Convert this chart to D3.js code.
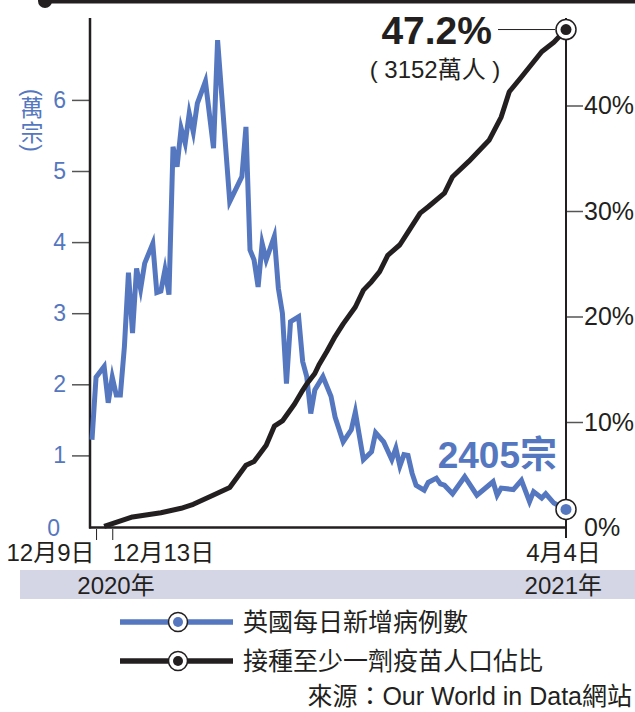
<!DOCTYPE html>
<html>
<head>
<meta charset="utf-8">
<script src="https://cdn.jsdelivr.net/npm/d3@7"></script>
<style>
body { margin: 0; background: #fff; }
svg { display: block; font-family: "Liberation Sans", Arial, "Noto Sans CJK TC", sans-serif; }
</style>
</head>
<body>
<script>
var width = 635,
  height = 712

var blue = '#5577bf',
  ink = '#231f20',
  font = '"Liberation Sans", Arial, "Noto Sans CJK TC", sans-serif'

// daily new cases in the UK (units of 10,000)
var caseDates = ['2020-12-08', '2020-12-09', '2020-12-11', '2020-12-12', '2020-12-13', '2020-12-14', '2020-12-15',
  '2020-12-16', '2020-12-17', '2020-12-18', '2020-12-19', '2020-12-20', '2020-12-21', '2020-12-23', '2020-12-24',
  '2020-12-25', '2020-12-26', '2020-12-27', '2020-12-28', '2020-12-29', '2020-12-30', '2020-12-31', '2021-01-01',
  '2021-01-02', '2021-01-03', '2021-01-05', '2021-01-07', '2021-01-08', '2021-01-11', '2021-01-14', '2021-01-15',
  '2021-01-16', '2021-01-17', '2021-01-18', '2021-01-19', '2021-01-20', '2021-01-22', '2021-01-23', '2021-01-24',
  '2021-01-25', '2021-01-26', '2021-01-28', '2021-01-29', '2021-01-30', '2021-01-31', '2021-02-01', '2021-02-03',
  '2021-02-05', '2021-02-06', '2021-02-08', '2021-02-10', '2021-02-11', '2021-02-13', '2021-02-15', '2021-02-16',
  '2021-02-18', '2021-02-20', '2021-02-21', '2021-02-22', '2021-02-23', '2021-02-24', '2021-02-25', '2021-02-26',
  '2021-02-28', '2021-03-01', '2021-03-03', '2021-03-04', '2021-03-05', '2021-03-07', '2021-03-10', '2021-03-13',
  '2021-03-17', '2021-03-18', '2021-03-19', '2021-03-22', '2021-03-24', '2021-03-26', '2021-03-27', '2021-03-29',
  '2021-03-30', '2021-04-01', '2021-04-04']
var caseValues = [1.22, 2.10, 2.25, 1.74, 2.10, 1.85, 1.85,
  2.53, 3.57, 2.72, 3.63, 3.34, 3.70, 3.98, 3.29,
  3.31, 3.61, 3.26, 5.34, 5.06, 5.60, 5.39, 5.81,
  5.55, 5.95, 6.26, 5.32, 6.84, 4.57, 4.92, 5.62,
  3.89, 3.75, 3.37, 3.98, 3.75, 4.08, 3.35, 3.00,
  2.01, 2.88, 2.95, 2.32, 2.11, 1.59, 1.92, 2.11,
  1.83, 1.54, 1.19, 1.36, 1.61, 0.94, 1.05, 1.32,
  1.19, 0.94, 1.10, 0.85, 1.01, 1.00, 0.75, 0.58,
  0.51, 0.62, 0.68, 0.60, 0.58, 0.46, 0.70, 0.44,
  0.63, 0.44, 0.54, 0.52, 0.65, 0.35, 0.49, 0.40,
  0.46, 0.33, 0.2405]

// share of population with at least one dose (%)
var vaxDates = ['2020-12-11', '2020-12-18', '2020-12-25', '2020-12-30', '2021-01-02', '2021-01-07', '2021-01-11',
  '2021-01-15', '2021-01-17', '2021-01-20', '2021-01-22', '2021-01-24', '2021-01-27', '2021-01-29', '2021-01-30',
  '2021-02-01', '2021-02-02', '2021-02-04', '2021-02-06', '2021-02-08', '2021-02-11', '2021-02-13', '2021-02-15',
  '2021-02-17', '2021-02-19', '2021-02-22', '2021-02-24', '2021-02-27', '2021-03-01', '2021-03-05', '2021-03-07',
  '2021-03-11', '2021-03-14', '2021-03-16', '2021-03-19', '2021-03-21', '2021-03-24', '2021-03-29', '2021-04-01',
  '2021-04-04']
var vaxValues = [0.1, 1.0, 1.4, 1.82, 2.2, 3.08, 3.8,
  5.9, 6.25, 7.8, 9.6, 10.1, 11.7, 13.0, 13.6,
  14.6, 15.4, 16.7, 18.1, 19.3, 20.9, 22.5, 23.3,
  24.25, 25.8, 26.8, 28.0, 29.8, 30.4, 31.7, 33.25,
  34.7, 35.9, 36.7, 38.9, 41.3, 42.7, 45.1, 46.0,
  47.2]

var leftTicks = [1, 2, 3, 4, 5, 6]
var rightTicks = [0, 10, 20, 30, 40]
var dateTicks = ['2020-12-09', '2020-12-13', '2021-04-04']
var dateTickLabels = ['12月9日', '12月13日', '4月4日']
var yearLabels = ['2020年', '2021年']
var seriesNames = ['英國每日新增病例數', '接種至少一劑疫苗人口佔比']

var parse = d3.timeParse('%Y-%m-%d')

var cases = caseDates.map(function (d, i) { return {date: parse(d), value: caseValues[i]} })
var vax = vaxDates.map(function (d, i) { return {date: parse(d), value: vaxValues[i]} })

var x = d3.scaleTime()
  .domain([parse('2020-12-08'), parse('2021-04-04')])
  .range([92, 566])
var yL = d3.scaleLinear().domain([0, 7]).range([526.5, 28.8])
var yR = d3.scaleLinear().domain([0, 50]).range([527.5, 0])

var svg = d3.select('body').append('svg')
  .attr('width', width)
  .attr('height', height)

// header rule
svg.append('line')
  .attr('x1', 45).attr('x2', width).attr('y1', 0.5).attr('y2', 0.5)
  .attr('stroke', ink).attr('stroke-width', 6)
svg.append('circle').attr('cx', 45).attr('cy', 1).attr('r', 7).attr('fill', ink)

// year band
svg.append('rect')
  .attr('x', 20).attr('y', 570).attr('width', width - 20).attr('height', 29)
  .attr('fill', '#d4d6e6')
svg.append('text').attr('x', 116).attr('y', 594).attr('text-anchor', 'middle')
  .attr('font-size', 24).attr('fill', ink).text(yearLabels[0])
svg.append('text').attr('x', 602).attr('y', 594).attr('text-anchor', 'end')
  .attr('font-size', 24).attr('fill', ink).text(yearLabels[1])

// left axis
var gL = svg.append('g')
  .attr('transform', 'translate(90,0)')
  .call(d3.axisLeft(yL).tickValues(leftTicks).tickSize(18).tickPadding(6).tickFormat(d3.format('d')))
gL.select('.domain').remove()
gL.selectAll('.tick line').attr('stroke', '#555').attr('stroke-width', 1.5)
gL.selectAll('.tick text').attr('fill', blue).attr('font-size', 23).attr('font-family', font)
gL.append('text')
  .attr('x', -30).attr('y', 528).attr('dy', '0.35em')
  .attr('text-anchor', 'end').attr('fill', blue).attr('font-size', 23).attr('font-family', font)
  .text('0')

// unit label, set vertically: (萬宗)
var unit = svg.append('g').attr('fill', blue).attr('font-size', 23).attr('text-anchor', 'middle')
unit.append('text').attr('transform', 'translate(32,92.5) rotate(90)')
  .attr('dominant-baseline', 'central').text('(')
unit.append('text').attr('x', 32).attr('y', 108)
  .attr('dominant-baseline', 'central').text('萬')
unit.append('text').attr('x', 32).attr('y', 133)
  .attr('dominant-baseline', 'central').text('宗')
unit.append('text').attr('transform', 'translate(32,148) rotate(90)')
  .attr('dominant-baseline', 'central').text(')')

// right axis
var gR = svg.append('g')
  .attr('transform', 'translate(566,0)')
  .call(d3.axisRight(yR).tickValues(rightTicks).tickSize(17).tickPadding(1)
    .tickFormat(function (d) { return d + '%' }))
gR.select('.domain').remove()
gR.selectAll('.tick line')
  .attr('stroke', '#555').attr('stroke-width', 1.5)
  .attr('x2', function (d) { return d === 0 ? 0 : 17 })
gR.selectAll('.tick text').attr('fill', ink).attr('font-size', 25).attr('font-family', font)

// bottom axis
var anchors = ['end', 'start', 'middle'],
  nudges = [-2, 0, -3]
var gB = svg.append('g')
  .attr('transform', 'translate(0,529)')
  .call(d3.axisBottom(x).tickValues(dateTicks.map(parse)).tickSize(11)
    .tickFormat(function (d, i) { return dateTickLabels[i] }))
gB.select('.domain').remove()
gB.selectAll('.tick line').attr('stroke', ink).attr('stroke-width', 1)
  .attr('y2', function (d, i) { return i === 2 ? 0 : 11 })
gB.selectAll('.tick text')
  .attr('fill', ink).attr('font-size', 24).attr('font-family', font)
  .attr('text-anchor', function (d, i) { return anchors[i] })
  .attr('x', function (d, i) { return nudges[i] })
  .attr('y', 32).attr('dy', 0)

// frame lines
svg.append('line').attr('x1', 90).attr('x2', 90).attr('y1', 18).attr('y2', 528.5)
  .attr('stroke', ink).attr('stroke-width', 2.5)
svg.append('line').attr('x1', 566).attr('x2', 566).attr('y1', 18).attr('y2', 538)
  .attr('stroke', ink).attr('stroke-width', 2)
svg.append('line').attr('x1', 89).attr('x2', 566).attr('y1', 527.5).attr('y2', 527.5)
  .attr('stroke', ink).attr('stroke-width', 2.5)

// series
var caseLine = d3.line()
  .x(function (d) { return x(d.date) })
  .y(function (d) { return yL(d.value) })
var vaxLine = d3.line()
  .x(function (d) { return x(d.date) })
  .y(function (d) { return yR(d.value) })

svg.append('path')
  .datum(cases)
  .attr('d', caseLine)
  .attr('fill', 'none').attr('stroke', blue).attr('stroke-width', 5)
  .attr('stroke-linejoin', 'miter').attr('stroke-miterlimit', 6)

svg.append('path')
  .datum(vax)
  .attr('d', vaxLine)
  .attr('fill', 'none').attr('stroke', ink).attr('stroke-width', 5)
  .attr('stroke-linejoin', 'round')

function marker (cx, cy, color) {
  svg.append('circle').attr('cx', cx).attr('cy', cy).attr('r', 10)
    .attr('fill', '#fff').attr('stroke', ink).attr('stroke-width', 1.5)
  svg.append('circle').attr('cx', cx).attr('cy', cy).attr('r', 5.5).attr('fill', color)
}

var lastCase = cases[cases.length - 1],
  lastVax = vax[vax.length - 1]
var cx1 = x(lastCase.date), cy1 = yL(lastCase.value)
var cx2 = x(lastVax.date), cy2 = yR(lastVax.value)

// annotations
svg.append('line')
  .attr('x1', 498).attr('x2', cx2 - 11).attr('y1', cy2).attr('y2', cy2)
  .attr('stroke', ink).attr('stroke-width', 1)
svg.append('text')
  .attr('x', 492).attr('y', cy2 + 14).attr('text-anchor', 'end')
  .attr('font-size', 39).attr('font-weight', 'bold').attr('fill', ink)
  .text(lastVax.value + '%')
svg.append('text')
  .attr('x', 435).attr('y', cy2 + 48).attr('text-anchor', 'middle')
  .attr('font-size', 24).attr('fill', ink)
  .text('( 3152萬人 )')
svg.append('text')
  .attr('x', cx1 - 9).attr('y', cy1 - 41).attr('text-anchor', 'end')
  .attr('font-size', 37).attr('font-weight', 'bold').attr('fill', blue)
  .text(Math.round(lastCase.value * 10000) + '宗')

marker(cx1, cy1, blue)
marker(cx2, cy2, ink)

// legend
var legend = svg.selectAll('.legend')
  .data(seriesNames)
  .enter().append('g')
  .attr('class', 'legend')
  .attr('transform', function (d, i) { return 'translate(0,' + (622 + i * 39) + ')' })

legend.append('line')
  .attr('x1', 120).attr('x2', 233)
  .attr('stroke', function (d, i) { return i === 0 ? blue : ink })
  .attr('stroke-width', 5.5)
legend.append('circle').attr('cx', 178).attr('r', 9.5)
  .attr('fill', '#fff').attr('stroke', ink).attr('stroke-width', 1.5)
legend.append('circle').attr('cx', 178).attr('r', 5)
  .attr('fill', function (d, i) { return i === 0 ? blue : ink })
legend.append('text')
  .attr('x', 243).attr('y', 9)
  .attr('font-size', 25).attr('fill', ink)
  .text(function (d) { return d })

svg.append('text')
  .attr('x', 632).attr('y', 705).attr('text-anchor', 'end')
  .attr('font-size', 25).attr('fill', ink)
  .text('來源：Our World in Data網站')
</script>
</body>
</html>
